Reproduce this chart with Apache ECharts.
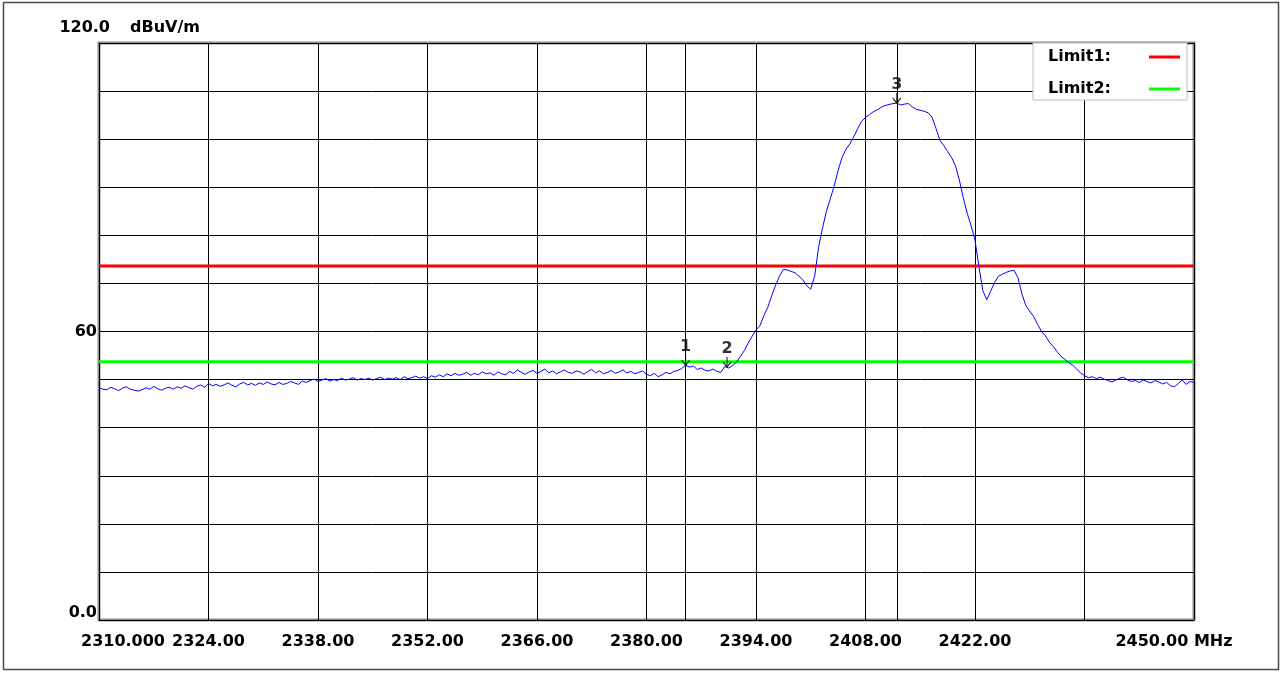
<!DOCTYPE html>
<html>
<head>
<meta charset="utf-8">
<script src="https://cdn.jsdelivr.net/npm/echarts@6/dist/echarts.min.js"></script>
<style>
html,body{margin:0;padding:0;background:#fff;}
#chart{width:1282px;height:673px;}
</style>
</head>
<body>
<div id="chart"></div>
<script>
// ---- data ----
const xTickValues = [2310, 2324, 2338, 2352, 2366, 2380, 2394, 2408, 2422, 2436, 2450];
const xTickLabels = ['2310.000', '2324.00', '2338.00', '2352.00', '2366.00', '2380.00', '2394.00', '2408.00', '2422.00', '', '2450.00 MHz'];
const yLabelValues = [0, 60];
const yLabelTexts = ['0.0', '60'];
const yTopTexts = ['120.0', 'dBuV/m'];

const limitNames = ['Limit1:', 'Limit2:'];
const limitValues = [73.6, 53.7];
const limitColors = ['#ff0000', '#00ff00'];

const markerNames = ['1', '2', '3'];
const markerPoints = [[2385.0, 53.0], [2390.3, 52.6], [2412.0, 107.5]];
const markerLineFreqs = [2385.0, 2412.0];

const trace = [
[2310,48.3],[2310.5,48.0],[2311,47.9],[2311.5,48.4],[2312,48.1],[2312.5,47.7],[2313,48.2],[2313.5,48.5],[2314,48.0],[2314.5,47.8],
[2315,47.6],[2315.5,47.9],[2316,48.3],[2316.5,48.0],[2317,48.6],[2317.5,48.1],[2318,47.8],[2318.5,48.2],[2319,48.4],[2319.5,48.0],
[2320,48.5],[2320.5,48.2],[2321,48.7],[2321.5,48.3],[2322,48.0],[2322.5,48.6],[2323,48.9],[2323.5,48.4],[2324,49.2],[2324.5,48.7],
[2325,49.0],[2325.5,48.6],[2326,48.9],[2326.5,49.3],[2327,48.8],[2327.5,48.5],[2328,49.1],[2328.5,49.4],[2329,48.9],[2329.5,49.2],
[2330,48.8],[2330.5,49.3],[2331,49.0],[2331.5,49.5],[2332,49.1],[2332.5,48.9],[2333,49.4],[2333.5,49.0],[2334,49.2],[2334.5,49.6],
[2335,49.3],[2335.5,49.0],[2336,49.7],[2336.5,49.4],[2337,49.8],[2337.5,50.1],[2338,49.6],[2338.5,49.9],[2339,50.2],[2339.5,49.7],
[2340,50.0],[2340.5,49.8],[2341,50.3],[2341.5,49.9],[2342,50.1],[2342.5,50.4],[2343,49.9],[2343.5,50.2],[2344,50.0],[2344.5,50.3],
[2345,49.9],[2345.5,50.2],[2346,50.5],[2346.5,50.0],[2347,50.3],[2347.5,50.1],[2348,50.4],[2348.5,50.0],[2349,50.6],[2349.5,50.2],
[2350,50.4],[2350.5,50.7],[2351,50.3],[2351.5,50.6],[2352,50.2],[2352.5,50.8],[2353,50.5],[2353.5,51.0],[2354,50.6],[2354.5,51.2],
[2355,50.8],[2355.5,51.3],[2356,50.9],[2356.5,51.1],[2357,51.5],[2357.5,50.9],[2358,51.3],[2358.5,51.0],[2359,51.6],[2359.5,51.2],
[2360,51.4],[2360.5,50.9],[2361,51.6],[2361.5,51.2],[2362,51.0],[2362.5,51.7],[2363,51.3],[2363.5,52.0],[2364,51.5],[2364.5,51.1],
[2365,51.6],[2365.5,51.9],[2366,51.3],[2366.5,51.7],[2367,52.2],[2367.5,51.4],[2368,51.8],[2368.5,51.2],[2369,51.6],[2369.5,52.0],
[2370,51.5],[2370.5,51.3],[2371,51.8],[2371.5,51.6],[2372,51.1],[2372.5,51.7],[2373,52.1],[2373.5,51.4],[2374,51.8],[2374.5,51.2],
[2375,51.5],[2375.5,51.9],[2376,51.3],[2376.5,51.6],[2377,52.0],[2377.5,51.4],[2378,51.7],[2378.5,51.2],[2379,51.5],[2379.5,51.8],
[2380,51.1],[2380.5,50.8],[2381,51.3],[2381.5,50.6],[2382,51.0],[2382.5,51.5],[2383,51.2],[2383.5,51.7],[2384,51.9],[2384.5,52.3],
[2385,53.0],[2385.5,52.6],[2386,52.8],[2386.5,52.1],[2387,52.4],[2387.5,51.9],[2388,51.8],[2388.5,52.2],[2389,51.7],[2389.5,51.5],
[2390,52.7],[2390.5,52.4],[2391,52.9],[2391.5,53.6],[2392,54.8],[2392.5,56.0],[2393,57.6],[2393.5,59.0],[2394,60.3],[2394.5,61.2],
[2395,63.3],[2395.5,65.0],[2396,67.4],[2396.5,69.6],[2397,71.5],[2397.5,72.9],[2398,72.8],[2398.5,72.5],[2399,72.2],[2399.5,71.5],
[2400,70.7],[2400.5,69.5],[2401,68.8],[2401.5,71.5],[2402,77.5],[2402.5,81.5],[2403,85.0],[2403.5,87.6],[2404,90.3],[2404.5,93.5],
[2405,96.2],[2405.5,97.9],[2406,99.0],[2406.5,100.5],[2407,102.2],[2407.5,103.7],[2408,104.5],[2408.5,105.1],[2409,105.7],[2409.5,106.1],
[2410,106.6],[2410.5,107.0],[2411,107.2],[2411.5,107.4],[2412,107.5],[2412.5,107.1],[2413,107.3],[2413.5,107.4],[2414,106.7],[2414.5,106.2],
[2415,106.0],[2415.5,105.8],[2416,105.5],[2416.5,104.6],[2417,102.3],[2417.5,99.8],[2418,98.7],[2418.5,97.4],[2419,96.2],[2419.5,94.5],
[2420,91.5],[2420.5,87.8],[2421,84.6],[2421.5,82.0],[2422,79.0],[2422.5,73.5],[2423,68.5],[2423.5,66.6],[2424,68.4],[2424.5,70.2],
[2425,71.5],[2425.5,71.9],[2426,72.3],[2426.5,72.6],[2427,72.7],[2427.5,71.2],[2428,67.8],[2428.5,65.4],[2429,64.2],[2429.5,63.1],
[2430,61.5],[2430.5,60.0],[2431,59.1],[2431.5,57.8],[2432,56.9],[2432.5,55.8],[2433,54.8],[2433.5,54.2],[2434,53.5],[2434.5,53.0],
[2435,52.2],[2435.5,51.4],[2436,50.8],[2436.5,50.4],[2437,50.6],[2437.5,50.2],[2438,50.5],[2438.5,50.1],[2439,49.8],[2439.5,49.5],
[2440,49.9],[2440.5,50.3],[2441,50.5],[2441.5,49.9],[2442,49.6],[2442.5,49.8],[2443,49.4],[2443.5,49.9],[2444,49.6],[2444.5,49.3],
[2445,49.8],[2445.5,49.5],[2446,49.1],[2446.5,49.4],[2447,48.7],[2447.5,48.5],[2448,49.2],[2448.5,49.9],[2449,49.0],[2449.5,49.6],
[2450,49.4]
];

// ---- chart ----
const FONT = 'DejaVu Sans';
const txt = {fontFamily: FONT, fontSize: 16, fontWeight: 'bold', color: '#000'};
const chart = echarts.init(document.getElementById('chart'), null, {renderer: 'canvas'});

const series = [];
limitNames.forEach((n, i) => {
  series.push({
    name: n, type: 'line', symbol: 'none', silent: true, z: 3,
    data: [[xTickValues[0], limitValues[i]], [xTickValues[xTickValues.length - 1], limitValues[i]]],
    lineStyle: {color: limitColors[i], width: 3}, itemStyle: {color: limitColors[i]}
  });
});
series.push({
  name: 'trace', type: 'line', symbol: 'none', silent: true, z: 4,
  data: trace,
  lineStyle: {color: '#0000ff', width: 1},
  markLine: {
    silent: true, symbol: ['none', 'none'], animation: false,
    label: {show: false},
    lineStyle: {color: '#000', width: 1, type: 'solid'},
    data: markerLineFreqs.map(f => ({xAxis: f}))
  }
});
series.push({
  name: 'markers', type: 'scatter', silent: true, z: 6,
  data: markerPoints,
  symbol: 'path://M4,0 L4,9 M0,5 L4,10 L8,5',
  symbolSize: [8, 10], symbolOffset: [0, -5],
  itemStyle: {color: 'rgba(0,0,0,0)', borderColor: '#000', borderWidth: 1.3},
  label: {
    show: true, position: 'top', distance: 0,
    formatter: p => markerNames[p.dataIndex],
    fontFamily: FONT, fontSize: 16, fontWeight: 'bold', color: '#000'
  }
});

chart.setOption({
  animation: false,
  backgroundColor: '#fff',
  grid: {left: 99, right: 88, top: 43, bottom: 53, show: true, borderColor: '#8c8c8c', borderWidth: 3, backgroundColor: '#fff', outerBoundsMode: 'none', containLabel: false},
  xAxis: {
    type: 'value', min: 2310, max: 2450, interval: 14,
    axisLine: {show: false}, axisTick: {show: false},
    splitLine: {show: true, lineStyle: {color: '#000', width: 1}},
    axisLabel: {
      show: true, margin: 14, showMinLabel: true, showMaxLabel: true,
      ...txt,
      formatter: v => {
        const i = xTickValues.indexOf(Math.round(v));
        if (i < 0) return '';
        const t = xTickLabels[i];
        if (t === '') return '';
        if (i === 0) return '{first|' + t + '}';
        if (i === xTickValues.length - 1) return '{last|' + t + '}';
        return t;
      },
      rich: {
        first: {...txt, padding: [0, 0, 0, 48]},
        last: {...txt, padding: [0, 40, 0, 0]}
      }
    }
  },
  yAxis: {
    type: 'value', min: 0, max: 120, interval: 10,
    axisLine: {show: false}, axisTick: {show: false},
    splitLine: {show: true, lineStyle: {color: '#000', width: 1}},
    axisLabel: {
      show: true, margin: 2, showMinLabel: true, showMaxLabel: true,
      ...txt,
      formatter: v => {
        const i = yLabelValues.indexOf(Math.round(v));
        if (i < 0) return '';
        if (yLabelValues[i] === 0) return '{z|' + yLabelTexts[i] + '}';
        return yLabelTexts[i];
      },
      rich: {z: {...txt, padding: [0, 0, 14, 0]}}
    }
  },
  legend: {
    data: limitNames, left: 1033, top: 43, orient: 'vertical', align: 'right',
    icon: 'rect', itemWidth: 31, itemHeight: 3, itemGap: 16,
    padding: [6, 7, 3, 15], backgroundColor: '#fff', borderColor: '#c0c0c0', borderWidth: 1,
    selectedMode: false,
    formatter: n => '{t|' + n + '}',
    textStyle: {...txt, rich: {t: {...txt, width: 96, align: 'left'}}}
  },
  graphic: [
    {type: 'rect', silent: true, shape: {x: 3.5, y: 2.5, width: 1275, height: 667}, style: {fill: 'none', stroke: '#4a4a4a', lineWidth: 1.5}, z: 100},
    {type: 'text', silent: true, x: 110, y: 28, style: {text: yTopTexts[0], font: 'bold 16px "DejaVu Sans"', fill: '#000', align: 'right', verticalAlign: 'middle'}},
    {type: 'text', silent: true, x: 130, y: 28, style: {text: yTopTexts[1], font: 'bold 16px "DejaVu Sans"', fill: '#000', align: 'left', verticalAlign: 'middle'}}
  ],
  series: series
});
</script>
</body>
</html>
